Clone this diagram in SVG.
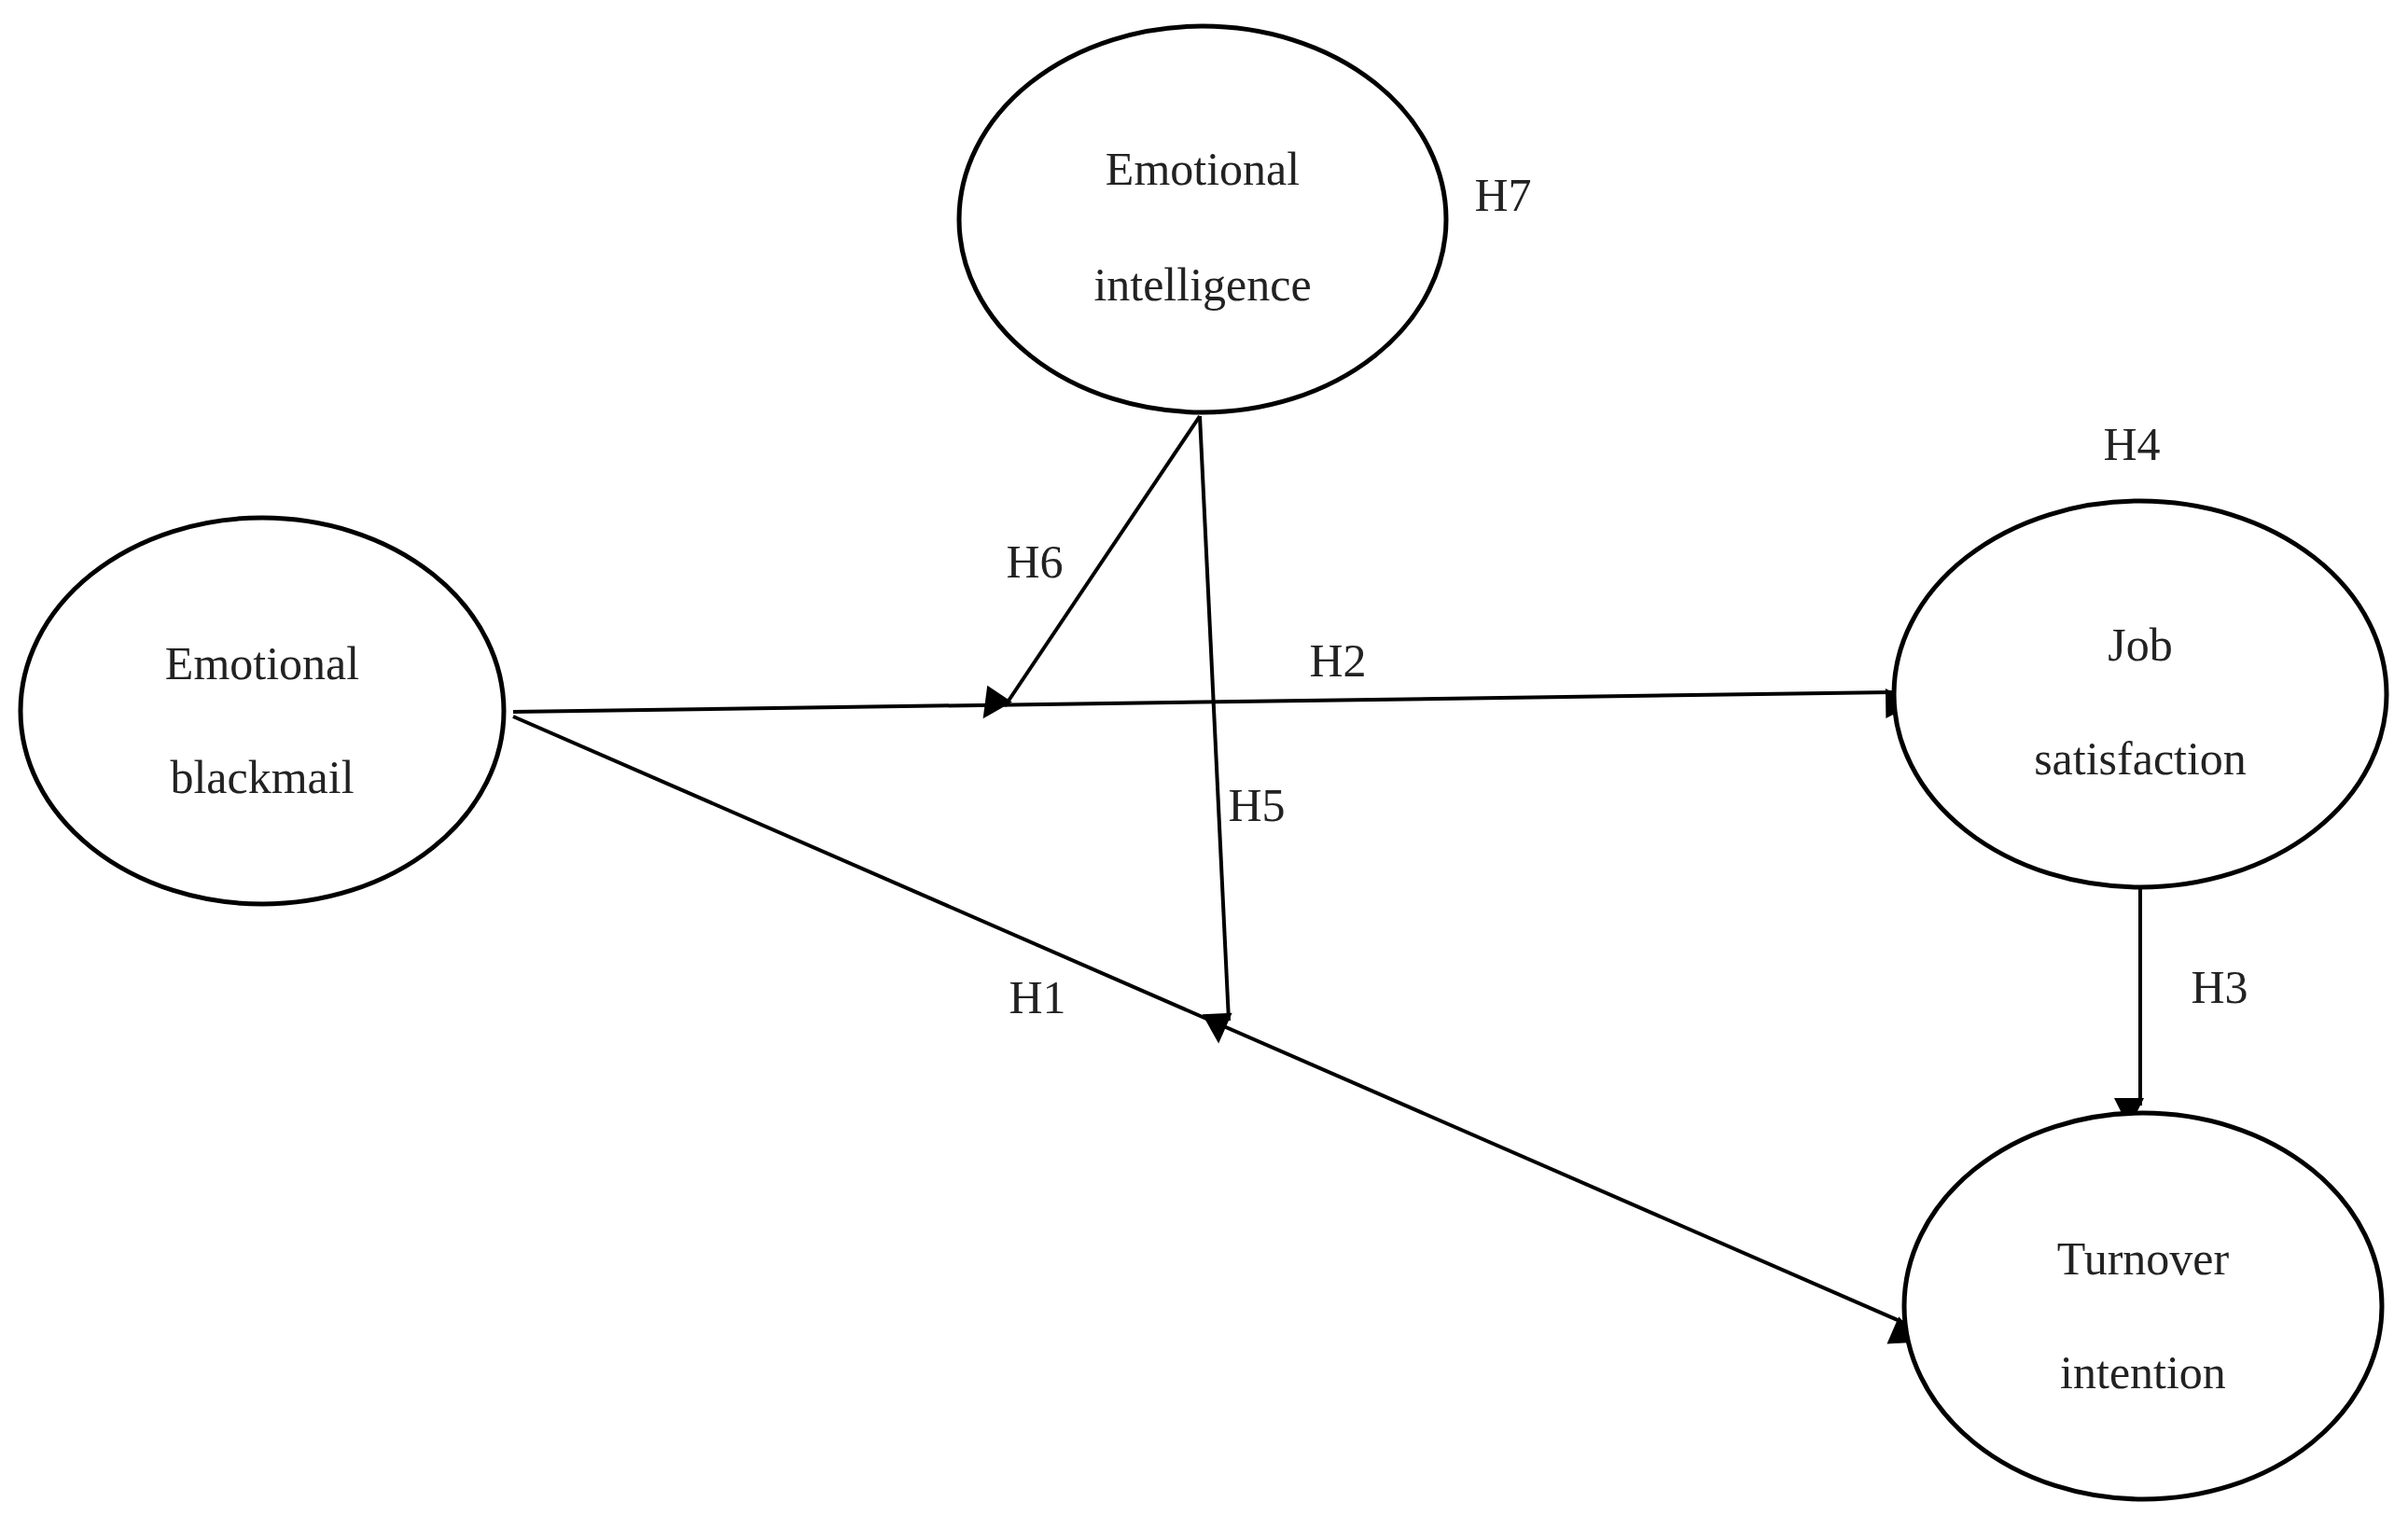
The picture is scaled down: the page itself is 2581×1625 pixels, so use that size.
<svg xmlns="http://www.w3.org/2000/svg" width="2581" height="1625" viewBox="0 0 2581 1625">
<style>
.n{fill:#fff;stroke:#000;stroke-width:5}
.t{font-family:"Liberation Serif",serif;font-size:50px;fill:#222;text-anchor:middle}
.c{stroke:#000;stroke-width:4;fill:none;marker-end:url(#a)}
</style>
<defs><marker id="a" viewBox="0 0 10 10" refX="10" refY="5" markerWidth="10" markerHeight="8" markerUnits="userSpaceOnUse" orient="auto" style="overflow:visible"><path d="M0,0L10,5L0,10z" fill="#000" transform="scale(4)"/></marker></defs>
<rect width="2581" height="1625" fill="#fff"/>
<g id="connectors">
<line class="c" x1="550" y1="763" x2="2029" y2="742"/>
<line class="c" x1="1286" y1="446" x2="1077" y2="757"/>
<line class="c" x1="1286" y1="446" x2="1317" y2="1094"/>
<line class="c" x1="550" y1="768" x2="2041" y2="1418"/>
<line class="c" x1="2294" y1="945" x2="2294" y2="1185"/>
</g>
<g id="ei"><ellipse class="n" cx="1289" cy="235" rx="261" ry="207"/><text class="t" x="1289" y="198">Emotional</text><text class="t" x="1289" y="322">intelligence</text></g>
<g id="eb"><ellipse class="n" cx="281" cy="762" rx="259" ry="207"/><text class="t" x="281" y="728">Emotional</text><text class="t" x="281" y="850">blackmail</text></g>
<g id="js"><ellipse class="n" cx="2294" cy="744" rx="264" ry="207"/><text class="t" x="2294" y="708">Job</text><text class="t" x="2294" y="830">satisfaction</text></g>
<g id="ti"><ellipse class="n" cx="2297" cy="1400" rx="256" ry="207"/><text class="t" x="2297" y="1366">Turnover</text><text class="t" x="2297" y="1488">intention</text></g>
<g id="labels">
<text class="t" x="1611" y="226">H7</text>
<text class="t" x="2285" y="493">H4</text>
<text class="t" x="1109" y="619">H6</text>
<text class="t" x="1434" y="725">H2</text>
<text class="t" x="1347" y="880">H5</text>
<text class="t" x="1112" y="1086">H1</text>
<text class="t" x="2379" y="1075">H3</text>
</g>
</svg>
